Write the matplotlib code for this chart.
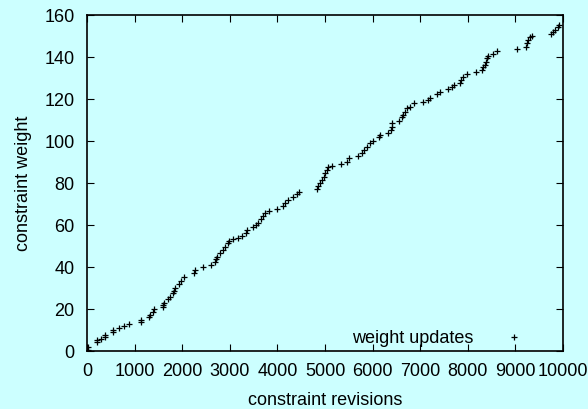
import matplotlib
matplotlib.use("Agg")
import matplotlib.pyplot as plt

# constraint revisions vs constraint weight
revisions = [15, 15, 216, 216, 287, 378, 378, 553, 553, 680, 784, 889,
             1127, 1140, 1309, 1315, 1393, 1400, 1590, 1600, 1620, 1708, 1743,
             1800, 1820, 1855, 1940, 1968, 2044, 2254, 2269, 2443, 2605,
             2689, 2710, 2738, 2794, 2850, 2899, 2969, 2990, 3060, 3165, 3250,
             3340, 3368, 3494, 3550, 3599, 3648, 3704, 3739, 3830, 3985,
             4124, 4160, 4229, 4334, 4405, 4460,
             4839, 4860, 4895, 4930, 4979, 5000, 5036, 5070, 5141, 5336,
             5469, 5511, 5700, 5771, 5819, 5876, 5945, 6015, 6141, 6155,
             6330, 6380, 6401, 6401, 6561, 6611, 6645, 6680, 6716, 6786, 6870,
             7065, 7170, 7206, 7346, 7416, 7590, 7661, 7710, 7836, 7851, 7906,
             7990, 8172, 8292, 8326, 8361, 8382, 8410, 8431, 8536, 8620,
             9040, 9223, 9251, 9272, 9307, 9342, 9748, 9796, 9832, 9902, 9923]
weights = [0.5, 2, 4.4, 5.2, 5.7, 6.8, 7.8, 9.2, 10, 10.8, 11.9, 12.9,
           14, 14.8, 16, 17, 18.7, 19.8, 21, 22, 23, 24.6, 25.9,
           27.5, 28.7, 29.8, 31.9, 33.5, 35.4, 37.3, 38.6, 40.2, 41,
           42.5, 43.7, 44.9, 46.5, 48.1, 49.7, 51.6, 52.4, 53.2, 53.6, 54.8,
           56, 57.6, 58.9, 60, 61.1, 62.7, 64.3, 65.9, 66.8, 67.6,
           69, 70.6, 71.9, 73.2, 74.8, 75.9,
           77, 78.6, 79.9, 81.4, 83, 84.6, 86.2, 87.5, 88.1, 88.9,
           90.1, 91.7, 92.9, 94.1, 95.7, 97.3, 98.9, 100.1, 101.8, 102.9,
           103.9, 105.2, 106.8, 108.4, 109.7, 111.3, 112.4, 114, 115.6, 116.3, 117.9,
           118.7, 119.5, 120.6, 122.4, 123.5, 124.6, 125.9, 126.7, 127.8, 129, 130.3,
           131.9, 132.9, 133.8, 135.1, 136.2, 137.8, 139.4, 140.5, 141.4, 142.9,
           143.8, 144.9, 146.5, 148.1, 149.7, 150, 151, 152, 152.9, 154.1, 155.2]

x_ticks = list(range(0, 10001, 1000))
y_ticks = list(range(0, 161, 20))

bg = "#ccffff"
fs = 13
plt.rcParams['font.family'] = ['Liberation Sans', 'DejaVu Sans']
plt.rcParams['font.size'] = fs

fig = plt.figure(figsize=(5.88, 4.09), dpi=100, facecolor=bg)
ax = fig.add_axes([87 / 588, 1 - 351 / 409, (563 - 87) / 588, (351 - 15) / 409])
ax.set_facecolor(bg)

ax.plot(revisions, weights, linestyle="none", marker="+", color="black",
        markersize=5, markeredgewidth=0.9, label="weight updates")

ax.set_xlim(0, 10000)
ax.set_ylim(0, 160)
ax.set_xticks(x_ticks)
ax.set_yticks(y_ticks)
ax.tick_params(direction="in", top=True, right=True, length=5, width=0.8,
               labelsize=fs, colors="black")
ax.tick_params(axis="y", pad=9)
ax.tick_params(axis="x", pad=9)
for s in ax.spines.values():
    s.set_linewidth(1.2)

ax.set_xlabel("constraint revisions", labelpad=8)
ax.set_ylabel("constraint weight", labelpad=9)

ax.legend(loc="lower right", bbox_to_anchor=(0.934, 0.012), frameon=False,
          markerfirst=False, handlelength=2, handletextpad=1.2, borderpad=0,
          borderaxespad=0, markerscale=0.8, fontsize=fs)

fig.savefig("out.png", dpi=100, facecolor=bg)
